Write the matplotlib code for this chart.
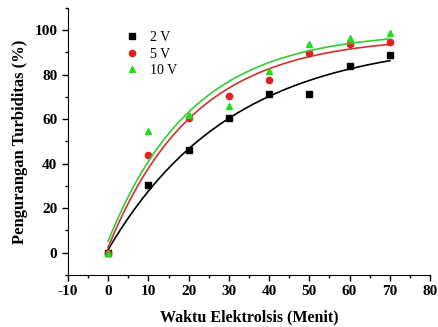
import numpy as np
import matplotlib
matplotlib.use("Agg")
import matplotlib.pyplot as plt
from matplotlib.ticker import MultipleLocator

plt.rcParams['font.family'] = ['Liberation Serif', 'DejaVu Serif']
plt.rcParams['axes.unicode_minus'] = False

# data
waktu = [0, 10, 20, 30, 40, 50, 60, 70]
turb_2v = [0, 30.4, 46.1, 60.7, 71.5, 71.5, 83.7, 88.7]
turb_5v = [0, 43.7, 60.4, 70.3, 77.8, 89.6, 93.6, 94.8]
turb_10v = [0, 54.5, 62.0, 65.7, 81.6, 93.9, 96.3, 98.5]

series = [
    ("2 V", turb_2v, "s", "black", "black"),
    ("5 V", turb_5v, "o", "#e02020", "#d03030"),
    ("10 V", turb_10v, "^", "#22dd22", "#33cc33"),
]


def fit_exp(x, y):
    # y = y0 + A*(1 - exp(-x/t)), grid search on t, linear lsq for y0, A
    x = np.asarray(x, float)
    y = np.asarray(y, float)
    best = None
    for t in np.linspace(5, 80, 751):
        M = np.column_stack([np.ones_like(x), 1 - np.exp(-x / t)])
        coef, *_ = np.linalg.lstsq(M, y, rcond=None)
        err = np.sum((M @ coef - y) ** 2)
        if best is None or err < best[0]:
            best = (err, coef[0], coef[1], t)
    return best[1:]


fig = plt.figure(figsize=(4.38, 3.27), dpi=100)
ax = fig.add_axes([0.155, 0.159, 0.827, 0.817])

xx = np.linspace(0, 70, 200)
for label, vals, mk, mcol, lcol in series:
    y0, A, t = fit_exp(waktu, vals)
    ax.plot(xx, y0 + A * (1 - np.exp(-xx / t)), color=lcol, lw=1.2)
    ax.plot(waktu, vals, mk, color=mcol, ms=4.5, ls="none", label=label)

ax.set_xlim(-10, 80)
ax.set_ylim(-10, 110)
ax.xaxis.set_major_locator(MultipleLocator(10))
ax.xaxis.set_minor_locator(MultipleLocator(5))
ax.yaxis.set_major_locator(MultipleLocator(20))
ax.yaxis.set_minor_locator(MultipleLocator(10))
ax.set_yticks([0, 20, 40, 60, 80, 100])
ax.spines['top'].set_visible(False)
ax.spines['right'].set_visible(False)
ax.tick_params(which='major', direction='out', length=4, width=1, labelsize=11)
ax.tick_params(which='minor', direction='out', length=2.5, width=1)
for lab in ax.get_xticklabels() + ax.get_yticklabels():
    lab.set_fontweight('bold')

ax.set_xlabel("Waktu Elektrolsis (Menit)", fontsize=11.5, fontweight='bold', labelpad=8)
ax.set_ylabel("Pengurangan Turbiditas (%)", fontsize=12, fontweight='bold', labelpad=5)

ax.legend(loc="upper left", bbox_to_anchor=(0.12, 0.96), frameon=False,
          fontsize=10, handletextpad=0.7, labelspacing=0.25, handlelength=1.2)

fig.savefig("out.png", dpi=100)
